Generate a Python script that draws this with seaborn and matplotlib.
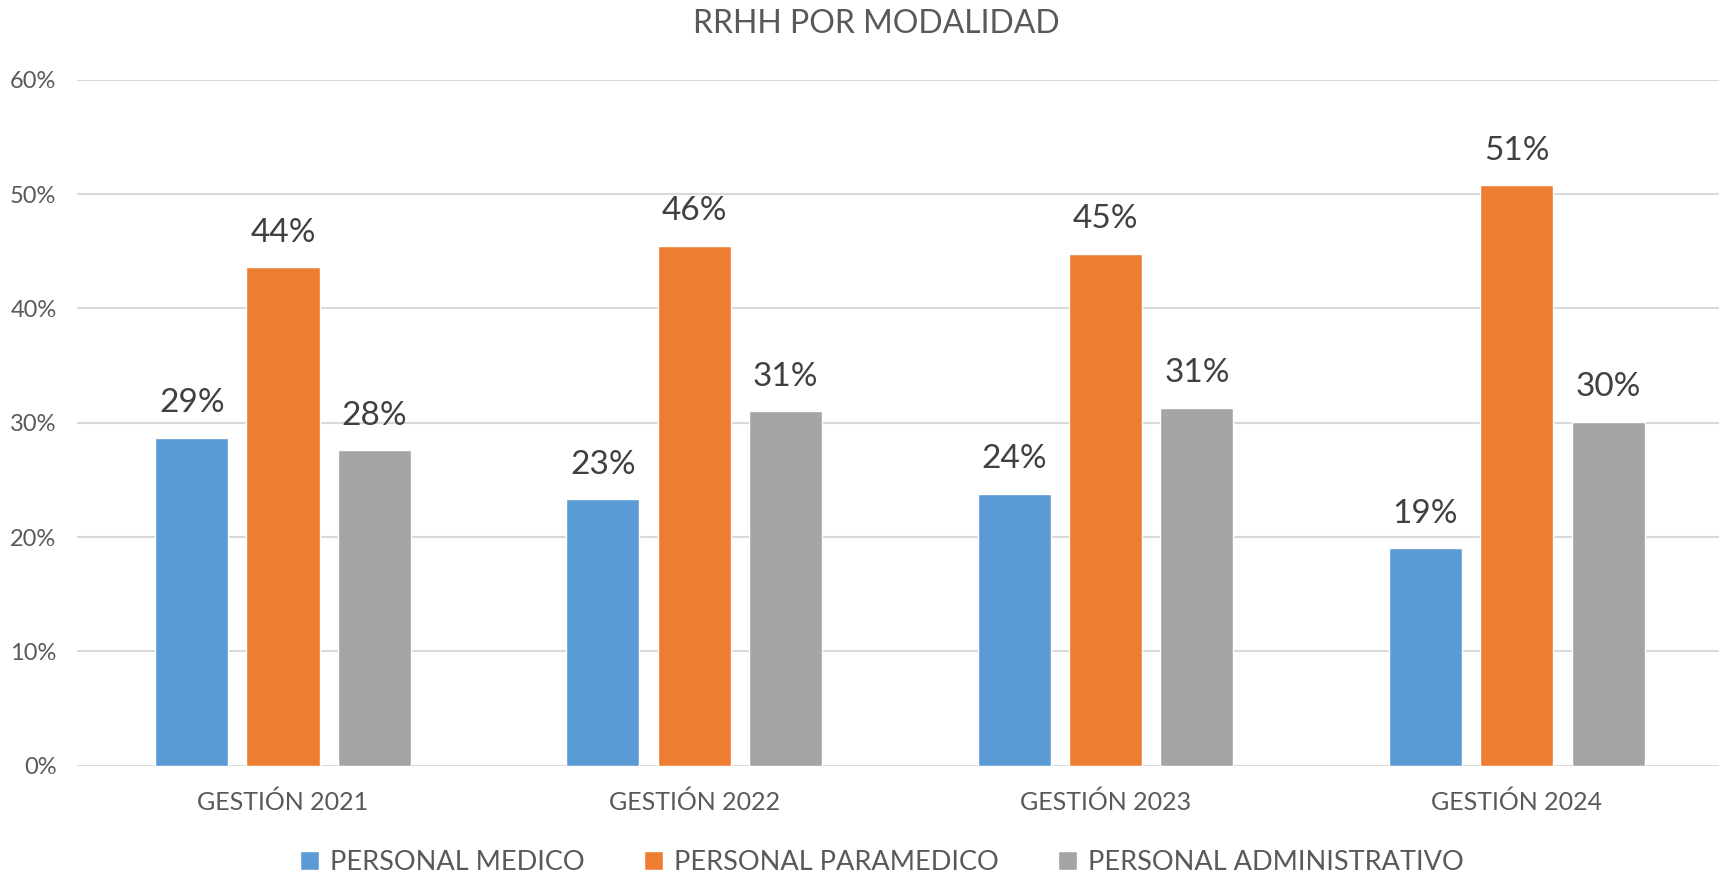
import pandas as pd
import seaborn as sns
import matplotlib.pyplot as plt
from matplotlib.ticker import PercentFormatter

# data
years = ['GESTIÓN 2021', 'GESTIÓN 2022', 'GESTIÓN 2023', 'GESTIÓN 2024']
series = ['PERSONAL MEDICO', 'PERSONAL PARAMEDICO', 'PERSONAL ADMINISTRATIVO']
medico = [0.287, 0.233, 0.238, 0.190]
paramedico = [0.436, 0.455, 0.448, 0.508]
administrativo = [0.276, 0.310, 0.313, 0.301]
colors = ['#5B9BD5', '#ED7D31', '#A5A5A5']

df = pd.DataFrame({
    'year': years * 3,
    'grupo': [s for s in series for _ in years],
    'value': medico + paramedico + administrativo,
})

sns.set_style('white')
plt.rcParams['font.family'] = ['Lato', 'DejaVu Sans']
text_col = '#595959'

fig = plt.figure(figsize=(17.19, 8.77), dpi=100)
ax = fig.add_axes([0.045, 0.127, 0.957, 0.782])

sns.barplot(data=df, x='year', y='value', hue='grupo', hue_order=series,
            palette=colors, width=0.666, gap=0.2, saturation=1, ax=ax)

for cont in ax.containers:
    ax.bar_label(cont, labels=[f'{v*100:.0f}%' for v in cont.datavalues],
                 padding=14, fontsize=24, color='#404040')

ax.set_ylim(0, 0.6)
ax.set_xlim(-0.5, 3.5)
ax.set_yticks([0, 0.1, 0.2, 0.3, 0.4, 0.5, 0.6])
ax.yaxis.set_major_formatter(PercentFormatter(1.0, decimals=0))
ax.grid(axis='y', color='#D9D9D9', linewidth=1.5)
ax.set_axisbelow(True)
for s in ax.spines.values():
    s.set_visible(False)
ax.tick_params(axis='y', labelsize=17, labelcolor=text_col, length=0, pad=15)
ax.tick_params(axis='x', labelsize=18, labelcolor=text_col, length=0, pad=18)
ax.set_xlabel('')
ax.set_ylabel('')

handles, labels = ax.get_legend_handles_labels()
ax.get_legend().remove()
fig.legend(handles, labels, loc='lower center', bbox_to_anchor=(0.513, -0.025),
           ncol=3, frameon=False, fontsize=19.5, labelcolor=text_col,
           handlelength=0.7, handleheight=0.7, handletextpad=0.4, columnspacing=2.2)

fig.suptitle('RRHH POR MODALIDAD', x=0.51, y=0.99, fontsize=23, color=text_col)

plt.savefig('out.png', dpi=100)
